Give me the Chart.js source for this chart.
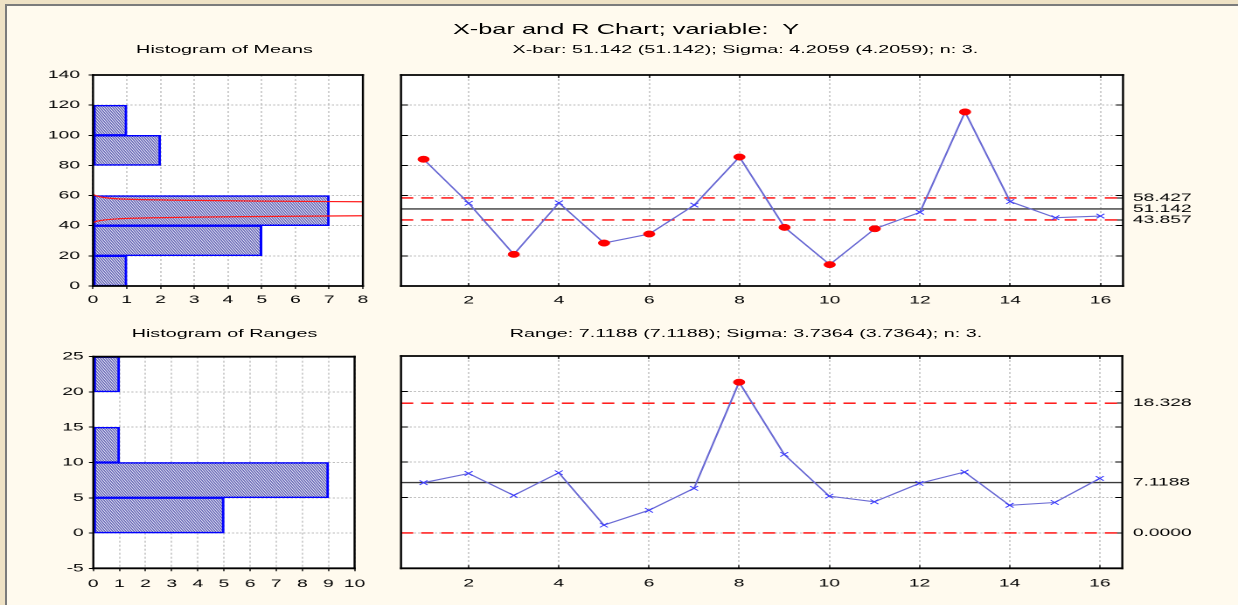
<!DOCTYPE html>
<html>
<head>
<meta charset="utf-8">
<title>X-bar and R Chart</title>
<script src="https://cdn.jsdelivr.net/npm/chart.js@4.4.1/dist/chart.umd.min.js"></script>
<style>
  html, body { margin:0; padding:0; width:1238px; height:605px; overflow:hidden; background:#efe2c5; }
  #panel { position:absolute; left:5px; top:4px; width:1250px; height:620px; background:#fffaee;
           border-left:2px solid #7b7b7b; border-top:2px solid #7b7b7b; }
  #stage { position:absolute; left:0; top:0; width:708px; height:605px; transform-origin:0 0; transform:scaleX(1.748588); }
  .box { position:absolute; }
  .box canvas { display:block; }
  .t { position:absolute; white-space:pre; line-height:1; font-family:"Liberation Sans", Arial, sans-serif;
       color:#000; transform:translateX(-50%); }
</style>
</head>
<body>
<div id="panel"></div>
<div id="stage">
  <div class="t" style="left:358px;top:22.4px;font-size:14.5px">X-bar and R Chart; variable:  Y</div>
  <div class="t" style="left:128.4px;top:44.3px;font-size:11.3px">Histogram of Means</div>
  <div class="t" style="left:426.3px;top:44.3px;font-size:11.3px">X-bar: 51.142 (51.142); Sigma: 4.2059 (4.2059); n: 3.</div>
  <div class="t" style="left:128.4px;top:327.5px;font-size:11.3px">Histogram of Ranges</div>
  <div class="t" style="left:426.6px;top:327.5px;font-size:11.3px">Range: 7.1188 (7.1188); Sigma: 3.7364 (3.7364); n: 3.</div>
</div>
<script>
// ---------------- data ----------------
const samples      = [1, 2, 3, 4, 5, 6, 7, 8, 9, 10, 11, 12, 13, 14, 15, 16];
const xbarValues   = [84.1, 54.9, 21.0, 55.2, 28.5, 34.5, 53.7, 85.6, 38.9, 14.2, 38.0, 48.9, 115.5, 56.0, 45.3, 46.4];
const rangeValues  = [7.1, 8.4, 5.3, 8.5, 1.1, 3.2, 6.3, 21.3, 11.1, 5.2, 4.4, 7.0, 8.6, 3.9, 4.3, 7.7];
const xbarLimits   = [43.857, 51.142, 58.427];   // LCL, centre line, UCL
const rangeLimits  = [0.0, 7.1188, 18.328];      // LCL, centre line, UCL
const meansBinEdges  = [0, 20, 40, 60, 80, 100, 120];
const meansCounts    = [1, 5, 7, 0, 2, 1];
const rangesBinEdges = [0, 5, 10, 15, 20, 25];
const rangesCounts   = [5, 9, 1, 0, 1];
// normal curve drawn over the histogram of means: [frequency, value]
const normalUpper = [[0, 60.8], [0.1, 59.8], [0.3, 58.8], [0.7, 57.9], [1.5, 57.3], [3, 56.8], [5, 56.3], [8, 55.9]];
const normalLower = [[0, 41.9], [0.1, 42.9], [0.3, 43.7], [0.7, 44.5], [1.5, 45.1], [3, 45.7], [5, 46.1], [8, 46.6]];
// tick labels
const meansTicks       = [0, 20, 40, 60, 80, 100, 120, 140];
const rangesTicks      = [-5, 0, 5, 10, 15, 20, 25];
const meansCountTicks  = [0, 1, 2, 3, 4, 5, 6, 7, 8];
const rangesCountTicks = [0, 1, 2, 3, 4, 5, 6, 7, 8, 9, 10];
const sampleTicks      = [2, 4, 6, 8, 10, 12, 14, 16];

// ---------------- layout ----------------
const S = 1238 / 708;                 // horizontal stretch of the stage
const FONT = '"Liberation Sans", Arial, Helvetica, sans-serif';
Chart.defaults.font.family = FONT;
Chart.defaults.font.size = 11;
Chart.defaults.color = '#000';
const GRID = '#bcbcbc';

// box: [left, top, width, height] in stage px; area: [left, top, right, bottom] in page px
const plots = {
  A: { box: [0, 55, 215, 255],   area: [93, 75, 364, 286] },
  B: { box: [215, 55, 493, 255], area: [401, 75, 1123, 286] },
  C: { box: [0, 335, 215, 270],  area: [93.3, 356.7, 363.3, 568.3] },
  D: { box: [215, 335, 493, 270], area: [401, 356, 1122.3, 568.3] }
};
const geo = {};
for (const k in plots) {
  const [bl, bt, bw, bh] = plots[k].box;
  const [l, t, r, b] = plots[k].area;
  geo[k] = { left: l / S - bl, top: t - bt, right: bl + bw - r / S, bottom: bt + bh - b };
  const d = document.createElement('div');
  d.className = 'box';
  d.style.cssText = `left:${bl}px;top:${bt}px;width:${bw}px;height:${bh}px`;
  const c = document.createElement('canvas');
  c.id = 'c' + k;
  d.appendChild(c);
  document.getElementById('stage').appendChild(d);
}

// hatched fill for the histogram bars
function makeHatch() {
  const c = document.createElement('canvas');
  c.width = 3; c.height = 3;
  const g = c.getContext('2d');
  g.fillStyle = '#f6f6ff'; g.fillRect(0, 0, 3, 3);
  for (let i = 0; i < 3; i++) {
    g.fillStyle = '#2e2e96'; g.fillRect(i, 2 - i, 1, 1);
    g.fillStyle = '#aeaedc'; g.fillRect((i + 1) % 3, 2 - i, 1, 1);
  }
  const p = g.createPattern(c, 'repeat');
  if (p.setTransform) p.setTransform(new DOMMatrix().scale(0.5));
  return p;
}
const hatch = makeHatch();

const framePlugin = {
  id: 'frame',
  beforeDraw(chart) {
    const { ctx, chartArea: a } = chart;
    ctx.save(); ctx.fillStyle = '#ffffff';
    ctx.fillRect(a.left, a.top, a.right - a.left, a.bottom - a.top);
    ctx.restore();
  },
  afterDraw(chart) {
    const { ctx, chartArea: a } = chart;
    ctx.save(); ctx.strokeStyle = '#000'; ctx.setLineDash([]);
    ctx.lineWidth = 1.8;
    ctx.beginPath();
    ctx.moveTo(a.left - 0.6, a.top); ctx.lineTo(a.right + 0.6, a.top);
    ctx.moveTo(a.left - 0.6, a.bottom); ctx.lineTo(a.right + 0.6, a.bottom);
    ctx.stroke();
    ctx.lineWidth = 1.2;
    ctx.beginPath();
    ctx.moveTo(a.left, a.top - 0.9); ctx.lineTo(a.left, a.bottom + 0.9);
    ctx.moveTo(a.right, a.top - 0.9); ctx.lineTo(a.right, a.bottom + 0.9);
    ctx.stroke();
    ctx.restore();
  }
};

const common = {
  responsive: true, maintainAspectRatio: false, animation: false, devicePixelRatio: 2, events: [],
  plugins: { legend: { display: false }, tooltip: { enabled: false } }
};

function histogram(k, edges, counts, yTicks, xTicks, curves, yPad, xPad) {
  const g = geo[k];
  const datasets = [{
    type: 'bar', indexAxis: 'y', xAxisID: 'x', yAxisID: 'y',
    data: counts.map((n, i) => ({ x: n, y: (edges[i] + edges[i + 1]) / 2 })),
    backgroundColor: hatch, borderColor: '#0000ff',
    borderWidth: c => (c.raw && c.raw.x > 0) ? 1.5 : 0,
    borderSkipped: false, barPercentage: 1, categoryPercentage: 1, order: 2
  }];
  curves.forEach(cv => datasets.push({
    type: 'line', indexAxis: 'x', xAxisID: 'x', yAxisID: 'y',
    data: cv.map(([x, y]) => ({ x, y })), borderColor: '#ff1a1a', borderWidth: 1.2,
    pointRadius: 0, cubicInterpolationMode: 'monotone', order: 0
  }));
  return new Chart(document.getElementById('c' + k), {
    type: 'bar',
    data: { datasets },
    options: Object.assign({}, common, {
      indexAxis: 'y',
      layout: { padding: { left: 0, top: g.top, right: g.right, bottom: 0 } },
      scales: {
        x: {
          type: 'linear', position: 'bottom', min: xTicks[0], max: xTicks[xTicks.length - 1], offset: false,
          afterBuildTicks: s => { s.ticks = xTicks.map(v => ({ value: v })); },
          ticks: { padding: xPad, maxRotation: 0, autoSkip: false },
          grid: { offset: false, color: GRID, lineWidth: 0.7, tickLength: 3, tickColor: '#000', tickWidth: 0.7 },
          border: { display: false, dash: [2, 2] },
          afterFit: s => { s.height = g.bottom; }
        },
        y: {
          type: 'linear', position: 'left', min: yTicks[0], max: yTicks[yTicks.length - 1], offset: false,
          afterBuildTicks: s => { s.ticks = yTicks.map(v => ({ value: v })); },
          ticks: { padding: yPad, autoSkip: false },
          grid: { offset: false, color: GRID, lineWidth: 1, tickLength: 2.5, tickColor: '#000', tickWidth: 1 },
          border: { display: false, dash: [1.2, 1.2] },
          afterFit: s => { s.width = g.left; }
        }
      }
    }),
    plugins: [framePlugin]
  });
}

function controlChart(k, values, limits, yTicks, xPad, labelPad) {
  const g = geo[k];
  const [lcl, cl, ucl] = limits;
  const xMin = samples[0] - 0.5, xMax = samples[samples.length - 1] + 0.5;
  const lo = yTicks[0], hi = yTicks[yTicks.length - 1];
  const isOut = c => !!c.raw && (c.raw.y > ucl || c.raw.y < lcl);
  const hline = (v, color, dash) => ({
    type: 'line', xAxisID: 'x', yAxisID: 'y', data: [{ x: xMin, y: v }, { x: xMax, y: v }],
    borderColor: color, borderWidth: 1.4, borderDash: dash, pointRadius: 0, order: 1
  });
  const rightTicks = [...new Set([...yTicks, ...limits])].sort((a, b) => a - b);
  const limitLabel = v => {
    const i = limits.findIndex(L => Math.abs(L - v) < 1e-9);
    return i < 0 ? '' : limits[i].toPrecision(5);
  };
  const sTicks = s => { s.ticks = sampleTicks.map(v => ({ value: v })); };
  return new Chart(document.getElementById('c' + k), {
    type: 'line',
    data: {
      datasets: [
        {
          type: 'line', xAxisID: 'x', yAxisID: 'y',
          data: samples.map((s, i) => ({ x: s, y: values[i] })),
          borderColor: '#6a6ad4', borderWidth: 1.1, order: 0,
          pointStyle: c => isOut(c) ? 'circle' : 'crossRot',
          pointRadius: c => isOut(c) ? 3.2 : 3.2,
          pointBackgroundColor: c => isOut(c) ? '#ff0000' : '#3a3aff',
          pointBorderColor: c => isOut(c) ? '#ff0000' : '#3a3aff',
          pointBorderWidth: c => isOut(c) ? 0.5 : 0.8
        },
        hline(ucl, '#ff0000', [7, 4.5]),
        hline(lcl, '#ff0000', [7, 4.5]),
        hline(cl, '#3a3a3a', [])
      ]
    },
    options: Object.assign({}, common, {
      layout: { padding: { left: 0, top: g.top, right: 0, bottom: 0 } },
      scales: {
        x: {
          type: 'linear', position: 'bottom', min: xMin, max: xMax,
          afterBuildTicks: sTicks,
          ticks: { padding: xPad, maxRotation: 0, autoSkip: false },
          grid: { color: GRID, lineWidth: 0.7, tickLength: -3, tickColor: '#000', tickWidth: 0.7 },
          border: { display: false, dash: [2, 2] },
          afterFit: s => { s.height = g.bottom; }
        },
        x2: {
          type: 'linear', position: 'top', min: xMin, max: xMax,
          afterBuildTicks: sTicks,
          ticks: { display: false },
          grid: { drawOnChartArea: false, tickLength: -3, tickColor: '#000', tickWidth: 0.7 },
          border: { display: false },
          afterFit: s => { s.height = 0; }
        },
        y: {
          type: 'linear', position: 'left', min: lo, max: hi,
          afterBuildTicks: s => { s.ticks = yTicks.map(v => ({ value: v })); },
          ticks: { display: false },
          grid: { color: GRID, lineWidth: 1, tickLength: -4, tickColor: '#000', tickWidth: 1 },
          border: { display: false, dash: [1.2, 1.2] },
          afterFit: s => { s.width = g.left; }
        },
        y2: {
          type: 'linear', position: 'right', min: lo, max: hi,
          afterBuildTicks: s => { s.ticks = rightTicks.map(v => ({ value: v })); },
          ticks: { padding: labelPad, autoSkip: false, callback: v => limitLabel(v) },
          grid: { drawOnChartArea: false, tickLength: -4, tickColor: '#000', tickWidth: 1 },
          border: { display: false },
          afterFit: s => { s.width = g.right; }
        }
      }
    }),
    plugins: [framePlugin]
  });
}

histogram('A', meansBinEdges, meansCounts, meansTicks, meansCountTicks, [normalUpper, normalLower], 4.9, 4.4);
controlChart('B', xbarValues, xbarLimits, meansTicks, 11.1, 9.6);
histogram('C', rangesBinEdges, rangesCounts, rangesTicks, rangesCountTicks, [], 3, 6.1);
controlChart('D', rangeValues, rangeLimits, rangesTicks, 11.4, 10);
</script>
</body>
</html>
